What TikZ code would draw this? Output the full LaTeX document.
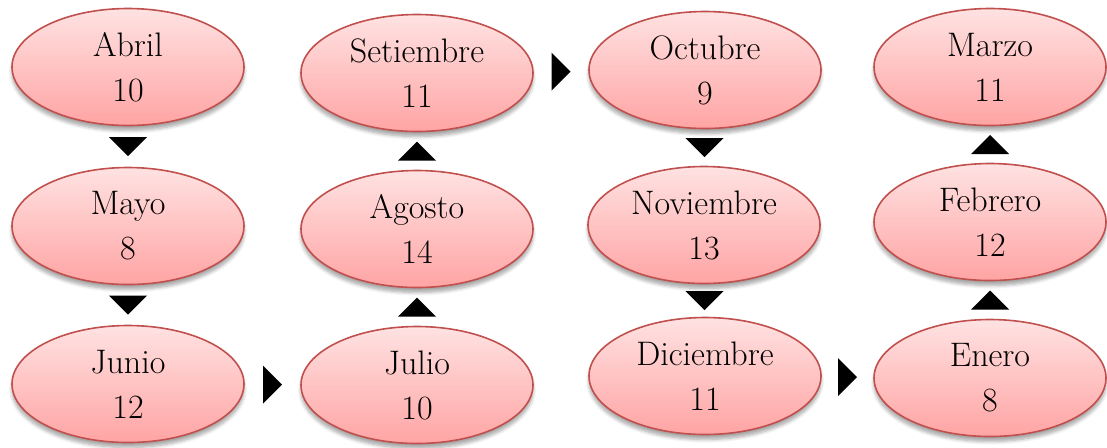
\documentclass[tikz,border=0pt]{standalone}
\usepackage{tikz}
\usetikzlibrary{shapes.geometric}
\usetikzlibrary{calc}
\usetikzlibrary{shadows.blur}

\definecolor{mesarriba}{HTML}{FFE2E2}
\definecolor{mesabajo}{HTML}{FFA4A4}
\definecolor{mesborde}{HTML}{C0504D}

\tikzset{
  mes/.style={ellipse, draw=mesborde, line width=0.8pt,
    top color=mesarriba, bottom color=mesabajo,
    minimum width=116pt, minimum height=58.5pt,
    inner xsep=-25pt, inner ysep=-10pt, align=center,
    font=\fontsize{17}{22.5}\selectfont,
    blur shadow={shadow xshift=0pt, shadow yshift=-2.5pt,
      shadow blur steps=6, shadow opacity=35}}
}

\begin{document}
\begin{tikzpicture}[x=0.5pt, y=-0.5pt]
    \useasboundingbox (0,0) rectangle (1107,447);
    \node[mes] (abril) at (128,67) {Abril\\10};
    \node[mes] (mayo) at (128,226) {Mayo\\8};
    \node[mes] (junio) at (128,384) {Junio\\12};
    \node[mes] (julio) at (417,385) {Julio\\10};
    \node[mes] (agosto) at (417,229) {Agosto\\14};
    \node[mes] (setiembre) at (417,73) {Setiembre\\11};
    \node[mes] (octubre) at (705,70) {Octubre\\9};
    \node[mes] (noviembre) at (704,225) {Noviembre\\13};
    \node[mes] (diciembre) at (705,376) {Diciembre\\11};
    \node[mes] (enero) at (990,378) {Enero\\8};
    \node[mes] (febrero) at (990,222) {Febrero\\12};
    \node[mes] (marzo) at (990,67) {Marzo\\11};
    % triangulos hacia abajo
    \fill ($(abril.south)!0.5!(mayo.north)$) ++(-19,-9.5) -- ++(38,0) -- ++(-19,19) -- cycle;
    \fill ($(mayo.south)!0.5!(junio.north)$) ++(-19,-9.5) -- ++(38,0) -- ++(-19,19) -- cycle;
    \fill ($(octubre.south)!0.5!(noviembre.north)$) ++(-19,-9.5) -- ++(38,0) -- ++(-19,19) -- cycle;
    \fill ($(noviembre.south)!0.5!(diciembre.north)$) ++(-19,-9.5) -- ++(38,0) -- ++(-19,19) -- cycle;
    % triangulos hacia arriba
    \fill ($(julio.north)!0.5!(agosto.south)$) ++(-19,9.5) -- ++(38,0) -- ++(-19,-19) -- cycle;
    \fill ($(agosto.north)!0.5!(setiembre.south)$) ++(-19,9.5) -- ++(38,0) -- ++(-19,-19) -- cycle;
    \fill ($(enero.north)!0.5!(febrero.south)$) ++(-19,9.5) -- ++(38,0) -- ++(-19,-19) -- cycle;
    \fill ($(febrero.north)!0.5!(marzo.south)$) ++(-19,9.5) -- ++(38,0) -- ++(-19,-19) -- cycle;
    % triangulos a la derecha
    \fill ($(junio.east)!0.5!(julio.west)$) ++(-9.5,-19) -- ++(0,38) -- ++(19,-19) -- cycle;
    \fill ($(setiembre.east)!0.5!(octubre.west)$) ++(-9.5,-19) -- ++(0,38) -- ++(19,-19) -- cycle;
    \fill ($(diciembre.east)!0.5!(enero.west)$) ++(-9.5,-19) -- ++(0,38) -- ++(19,-19) -- cycle;
\end{tikzpicture}
\end{document}
